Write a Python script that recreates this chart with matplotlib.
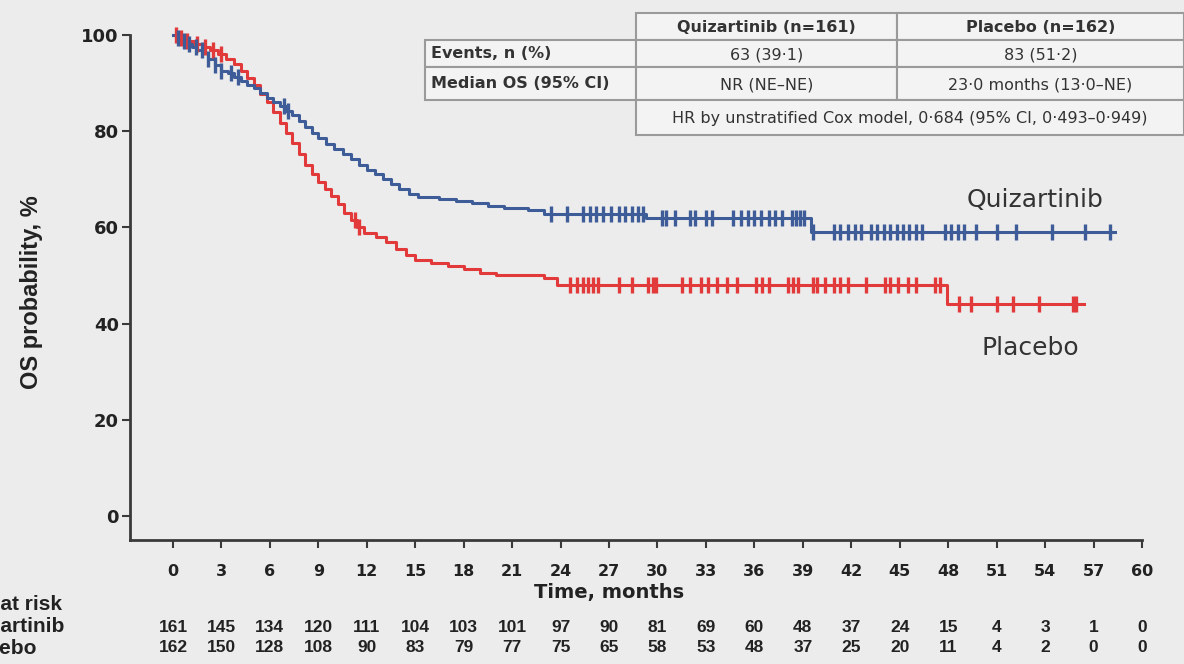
import numpy as np
import matplotlib
matplotlib.use('Agg')
import matplotlib.pyplot as plt
from matplotlib.patches import Rectangle

plt.rcParams['font.family'] = ['Liberation Sans', 'DejaVu Sans']

# ── data ──
quiz_t = [0, 0.3, 0.6, 0.9, 1.2, 1.5, 1.9, 2.2, 2.6, 3.0, 3.4, 3.8, 4.2, 4.6, 5.0, 5.4,
          5.8, 6.2, 6.6, 7.0, 7.4, 7.8, 8.2, 8.6, 9.0, 9.5, 10.0, 10.5, 11.0, 11.5, 12.0,
          12.5, 13.0, 13.5, 14.0, 14.6, 15.2, 16.5, 17.5, 18.5, 19.5, 20.5, 22.0, 23.0,
          29.3, 39.5]
quiz_s = [100, 99.4, 98.8, 98.1, 97.5, 96.9, 96.2, 95.0, 93.8, 92.6, 92.0, 91.3, 90.4, 89.7,
          88.9, 88.0, 87.0, 86.0, 85.2, 84.3, 83.4, 82.2, 80.8, 79.6, 78.5, 77.3, 76.3, 75.3,
          74.2, 73.0, 72.0, 71.0, 70.0, 69.0, 68.0, 67.0, 66.4, 66.0, 65.4, 65.0, 64.5, 64.1,
          63.7, 62.8, 61.9, 59.0]
quiz_end = 58.3
quiz_cens = [0.3, 0.7, 1.0, 1.4, 1.8, 2.2, 2.6, 3.0, 3.6, 4.0, 6.9, 7.1, 23.4,
             24.4, 25.4, 25.8, 26.2, 26.6, 27.1, 27.6, 28.0, 28.4, 28.8, 29.1, 30.3, 30.5,
             31.1, 32.0, 32.3, 33.0, 33.4, 34.7, 35.2, 35.6, 36.0, 36.4, 36.9, 37.3, 37.7,
             38.3, 38.6, 38.8, 39.1, 39.6, 40.9, 41.3, 41.8, 42.2, 42.6, 43.2, 43.6, 44.0,
             44.4, 44.8, 45.2, 45.6, 46.0, 46.4, 47.8, 48.2, 48.6, 49.0, 49.7, 51.0, 52.2,
             54.4, 56.5, 58.0]

plac_t = [0, 0.4, 0.8, 1.3, 1.8, 2.3, 2.8, 3.3, 3.8, 4.2, 4.6, 5.0, 5.4, 5.8, 6.2, 6.6, 7.0,
          7.4, 7.8, 8.2, 8.6, 9.0, 9.4, 9.8, 10.2, 10.6, 11.0, 11.4, 11.8, 12.6, 13.2, 13.8,
          14.4, 15.0, 16.0, 17.0, 18.0, 19.0, 20.0, 23.0, 23.8, 47.9]
plac_s = [100, 99.4, 98.8, 98.1, 97.5, 96.9, 96.0, 95.0, 94.0, 92.5, 91.0, 89.5, 87.8, 86.0,
          84.0, 81.8, 79.6, 77.5, 75.3, 73.0, 71.0, 69.5, 68.0, 66.5, 64.8, 63.0, 61.5, 60.0,
          58.8, 58.0, 57.0, 55.6, 54.2, 53.3, 52.6, 52.0, 51.3, 50.6, 50.0, 49.4, 48.0, 44.0]
plac_end = 56.4
plac_cens = [0.2, 0.5, 0.9, 1.5, 2.0, 2.5, 3.0, 11.3, 11.5,
             24.6, 25.0, 25.4, 25.7, 26.0, 26.3, 27.6, 28.4, 29.4, 29.7, 29.9, 31.5, 32.0,
             32.7, 33.1, 33.7, 34.3, 34.9, 36.1, 36.5, 36.9, 38.1, 38.4, 38.7, 39.6, 39.9,
             40.4, 40.9, 41.3, 41.8, 42.9, 44.1, 44.4, 44.9, 45.5, 46.0, 47.2, 47.5, 48.7,
             49.4, 51.0, 52.0, 53.6, 55.7, 55.9]

risk_times = list(range(0, 61, 3))
risk_quiz = [161, 145, 134, 120, 111, 104, 103, 101, 97, 90, 81, 69, 60, 48, 37, 24, 15, 4, 3, 1, 0]
risk_plac = [162, 150, 128, 108, 90, 83, 79, 77, 75, 65, 58, 53, 48, 37, 25, 20, 11, 4, 2, 0, 0]

BLUE = '#3d5c98'
RED = '#e23a3a'
BG = '#ececec'
DARK = '#3a3a3a'
TXT = '#222222'

W, H = 1184, 664
fig = plt.figure(figsize=(W / 100, H / 100), dpi=100)
fig.patch.set_facecolor(BG)

ax = fig.add_axes([130 / W, 1 - 540 / H, (1142 - 130) / W, (540 - 35) / H])
ax.set_facecolor(BG)
ax.set_xlim(-2.66, 60)
ax.set_ylim(-5, 100)


def step_val(ts, ss, x):
    idx = np.searchsorted(ts, x, side='right') - 1
    return np.asarray(ss)[idx]


for ts, ss, end, cens, col in [(plac_t, plac_s, plac_end, plac_cens, RED),
                               (quiz_t, quiz_s, quiz_end, quiz_cens, BLUE)]:
    xs = list(ts) + [end]
    ys = list(ss) + [ss[-1]]
    ax.step(xs, ys, where='post', color=col, lw=2.2, clip_on=False, zorder=3)
    ax.plot(cens, step_val(ts, ss, np.array(cens)), ls='none', marker='|',
            ms=12, mew=2.4, color=col, clip_on=False, zorder=4)

for s in ['top', 'right']:
    ax.spines[s].set_visible(False)
for s in ['left', 'bottom']:
    ax.spines[s].set_color(DARK)
    ax.spines[s].set_linewidth(2)
ax.spines['left'].set_bounds(-5, 100)

ax.set_xticks(risk_times)
ax.set_yticks([0, 20, 40, 60, 80, 100])
ax.tick_params(axis='both', colors=DARK, width=1.5, length=6)
ax.tick_params(axis='x', pad=11)
ax.tick_params(axis='y', pad=2)
for lab in ax.get_xticklabels():
    lab.set_fontweight('bold')
    lab.set_color(TXT)
    lab.set_fontsize(11.5)
    lab.set_family(['DejaVu Sans'])
for lab in ax.get_yticklabels():
    lab.set_fontweight('bold')
    lab.set_color(TXT)
    lab.set_fontsize(13)
    lab.set_family(['DejaVu Sans'])

ax.set_xlabel('Time, months', fontsize=14, fontweight='bold', color=TXT,
              family=['DejaVu Sans'])
ax.xaxis.set_label_coords((609 - 130) / 1012, -(583 - 540) / 505)
ax.set_ylabel('OS probability, %', fontsize=17, fontweight='bold', color=TXT)
ax.yaxis.set_label_coords(-(130 - 43) / 1012, (540 - 292) / 505)

# number at risk
tr = ax.get_xaxis_transform()
for x, q, p in zip(risk_times, risk_quiz, risk_plac):
    ax.text(x, -(627 - 540) / 505, str(q), transform=tr, ha='center', va='center', fontsize=12.5,
            fontweight='bold', color=TXT, clip_on=False)
    ax.text(x, -(648 - 540) / 505, str(p), transform=tr, ha='center', va='center', fontsize=12.5,
            fontweight='bold', color=TXT, clip_on=False)

# overlay in pixel coords for table, curve labels and row labels
ov = fig.add_axes([0, 0, 1, 1], facecolor='none')
ov.set_xlim(0, W)
ov.set_ylim(H, 0)
ov.axis('off')

ov.text(1035, 200, 'Quizartinib', fontsize=18, color='#333333', ha='center', va='center',
        family=['DejaVu Sans'])
ov.text(1030, 348, 'Placebo', fontsize=18, color='#333333', ha='center', va='center',
        family=['DejaVu Sans'])

# row labels of the risk table (cut by the left edge, as in the source)
for txt, x, y in [('No. at risk', 62, 605), ('Quizartinib', 64, 627), ('Placebo', 37, 648)]:
    ov.text(x, y, txt, ha='right', va='center', fontsize=15, fontweight='bold', color=TXT)

cells = [
    (636, 13, 261, 27, 'Quizartinib (n=161)', True),
    (897, 13, 287, 27, 'Placebo (n=162)', True),
    (425, 40, 211, 27, None, True),
    (636, 40, 261, 27, '63 (39·1)', False),
    (897, 40, 287, 27, '83 (51·2)', False),
    (425, 67, 211, 33, None, True),
    (636, 67, 261, 33, 'NR (NE–NE)', False),
    (897, 67, 287, 33, '23·0 months (13·0–NE)', False),
    (636, 100, 548, 35, 'HR by unstratified Cox model, 0·684 (95% CI, 0·493–0·949)', False),
]
for x, y, w, h, txt, bold in cells:
    ov.add_patch(Rectangle((x, y), w, h, facecolor='#f3f3f3', edgecolor='#9a9a9a', lw=1.5))
    if txt:
        ov.text(x + w / 2, y + h / 2 + 1, txt, ha='center', va='center', fontsize=11.5,
                fontweight='bold' if bold else 'normal', color='#333333', family=['DejaVu Sans'])
ov.text(431, 54, 'Events, n (%)', ha='left', va='center', fontsize=11.5, fontweight='bold',
        color='#333333', family=['DejaVu Sans'])
ov.text(431, 84, 'Median OS (95% CI)', ha='left', va='center', fontsize=11.5, fontweight='bold',
        color='#333333', family=['DejaVu Sans'])

fig.savefig('out.png', dpi=100, facecolor=BG)
